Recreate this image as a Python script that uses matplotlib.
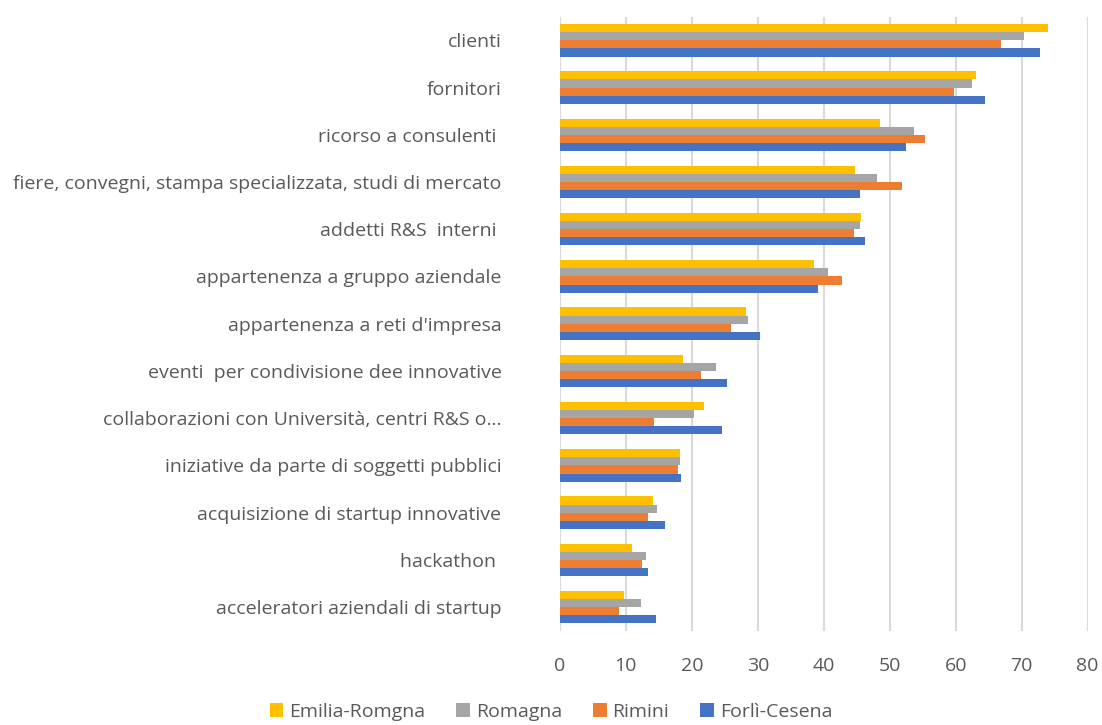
import numpy as np
import matplotlib.pyplot as plt

plt.rcParams['font.family'] = ['Open Sans', 'DejaVu Sans']

# Categories (top to bottom)
categorie = ['clienti', 'fornitori', 'ricorso a consulenti ',
             'fiere, convegni, stampa specializzata, studi di mercato',
             'addetti R&S  interni ', 'appartenenza a gruppo aziendale',
             "appartenenza a reti d'impresa",
             'eventi  per condivisione dee innovative',
             'collaborazioni con Università, centri R&S o…',
             'iniziative da parte di soggetti pubblici',
             'acquisizione di startup innovative', 'hackathon ',
             'acceleratori aziendali di startup']

emilia_romagna = [74.0, 63.1, 48.6, 44.7, 45.7, 38.5, 28.2, 18.6, 21.8, 18.2, 14.1, 11.0, 9.8]
romagna        = [70.3, 62.5, 53.7, 48.1, 45.5, 40.7, 28.5, 23.7, 20.4, 18.2, 14.8, 13.0, 12.3]
rimini         = [66.9, 59.8, 55.3, 51.8, 44.6, 42.8, 25.9, 21.4, 14.3, 17.9, 13.4, 12.5, 8.9]
forli_cesena   = [72.7, 64.5, 52.5, 45.5, 46.2, 39.2, 30.4, 25.3, 24.6, 18.4, 15.9, 13.3, 14.6]

serie = [('Emilia-Romgna', emilia_romagna, '#FFC000'),
         ('Romagna', romagna, '#A5A5A5'),
         ('Rimini', rimini, '#ED7D31'),
         ('Forlì-Cesena', forli_cesena, '#4472C4')]

testo = '#595959'
y = np.arange(len(categorie))
h = 0.172

fig = plt.figure(figsize=(11.02, 7.25), dpi=100)
ax = fig.add_axes([0.508, 0.130, 0.479, 0.847])

for i, (nome, vals, col) in enumerate(serie):
    ax.barh(y + (i - 1.5) * h, vals, height=h, color=col, label=nome, zorder=3)

ax.set_xlim(0, 80)
ax.set_ylim(len(categorie) - 0.5, -0.5)
ax.set_xticks(np.arange(0, 81, 10))
ax.set_yticks(y)
ax.set_yticklabels(categorie)
ax.grid(axis='x', color='#D9D9D9', linewidth=1.5, zorder=0)
for s in ax.spines.values():
    s.set_visible(False)
ax.tick_params(axis='y', length=0, pad=42, labelsize=14, labelcolor=testo)
ax.tick_params(axis='x', length=0, pad=19, labelsize=14, labelcolor=testo)

fig.legend(loc='lower center', bbox_to_anchor=(0.5, -0.018), ncol=4, frameon=False,
           fontsize=14, labelcolor=testo, handlelength=0.7, handleheight=0.7,
           handletextpad=0.3, columnspacing=1.6)

fig.savefig('out.png', dpi=100)
